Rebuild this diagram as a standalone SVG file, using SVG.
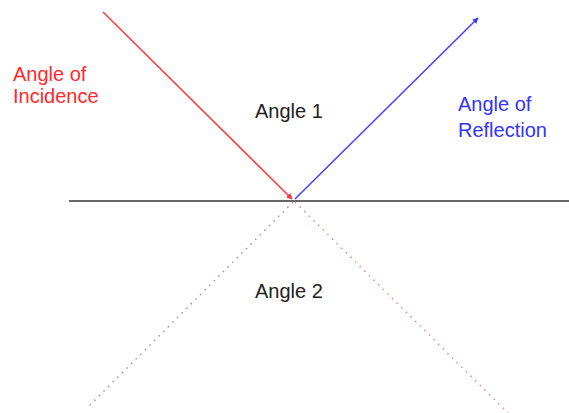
<svg xmlns="http://www.w3.org/2000/svg" width="569" height="413" viewBox="0 0 569 413">
<style>
text{font-family:"Liberation Sans",Arial,sans-serif;font-size:20px}
.red{fill:#ff2a2a}.blue{fill:#3333ff}.blk{fill:#222}
</style>
<defs>
<marker id="ar" viewBox="0 0 10 10" refX="9" refY="5" markerWidth="4" markerHeight="4" orient="auto" markerUnits="strokeWidth"><path d="M0,0L10,5L0,10z" fill="#ff3030"/></marker>
<marker id="ab" viewBox="0 0 10 10" refX="9" refY="5" markerWidth="4" markerHeight="4" orient="auto" markerUnits="strokeWidth"><path d="M0,0L10,5L0,10z" fill="#3a3aff"/></marker>
</defs>
<rect width="569" height="413" fill="#fff"/>
<g id="connectors" fill="none">
<line x1="69" y1="201" x2="569" y2="201" stroke="#666" stroke-width="2"/>
<line x1="103" y1="12" x2="292" y2="199" stroke="#ff3a3a" stroke-width="1.5" marker-end="url(#ar)"/>
<line x1="295" y1="199" x2="478" y2="18" stroke="#4040ff" stroke-width="1.5" marker-end="url(#ab)"/>
<line x1="293" y1="202" x2="88" y2="407" stroke="#999" stroke-width="1.5" stroke-dasharray="1.5 5"/>
<line x1="295" y1="202" x2="508" y2="413" stroke="#ff8080" stroke-width="1.5" stroke-dasharray="1.5 5"/>
</g>
<g id="incidence"><text class="red" x="13" y="81">Angle of</text><text class="red" x="13" y="103">Incidence</text></g>
<g id="reflection"><text class="blue" x="458" y="111">Angle of</text><text class="blue" x="458" y="137">Reflection</text></g>
<g id="angle1"><text class="blk" x="255" y="118">Angle 1</text></g>
<g id="angle2"><text class="blk" x="255" y="298">Angle 2</text></g>
</svg>
